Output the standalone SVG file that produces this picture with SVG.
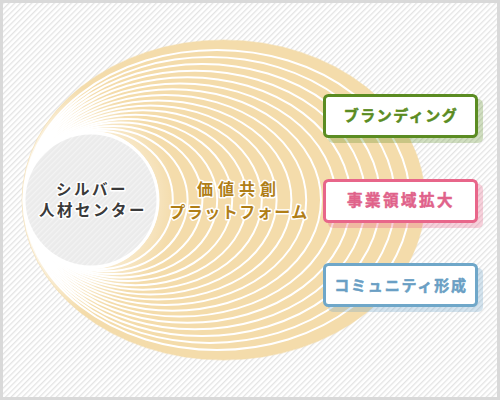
<svg xmlns="http://www.w3.org/2000/svg" width="500" height="400" viewBox="0 0 500 400">
<defs>
<pattern id="stripes" patternUnits="userSpaceOnUse" width="4" height="4" patternTransform="rotate(45)">
<rect width="4" height="4" fill="#ffffff"/>
<rect width="1.3" height="4" fill="#e4e4e4"/>
</pattern>
<pattern id="stripesGray" patternUnits="userSpaceOnUse" width="4" height="4" patternTransform="rotate(45)">
<rect width="4" height="4" fill="#ebebeb"/>
<rect width="1.3" height="4" fill="#f3f3f3"/>
</pattern>
<radialGradient id="fade" gradientUnits="userSpaceOnUse" cx="60" cy="200" r="115">
<stop offset="0.3" stop-color="#ffffff" stop-opacity="1"/>
<stop offset="1" stop-color="#ffffff" stop-opacity="0"/>
</radialGradient>
<clipPath id="bigClip"><ellipse cx="223.5" cy="200" rx="201.5" ry="160"/></clipPath>
<style>
.ring{fill:none;stroke:#ffffff;stroke-width:2}
.lbl{font-family:"Noto Sans CJK JP","Noto Sans",sans-serif;font-weight:700;text-anchor:middle;paint-order:stroke;stroke:#ffffff;stroke-linejoin:round}
.btxt{font-family:"Noto Sans CJK JP","Noto Sans",sans-serif;font-weight:700;text-anchor:middle;stroke-width:0.5;stroke-linejoin:round}
.box{fill:#ffffff;stroke-width:3}
</style>
</defs>
<rect x="0" y="0" width="500" height="400" fill="#d9d9d9"/>
<rect x="3" y="3" width="494" height="394" fill="url(#stripes)"/>
<g id="platform">
<g clip-path="url(#bigClip)">
<ellipse cx="223.5" cy="200" rx="201.5" ry="160" fill="#f4dcab"/>
<ellipse class="ring" cx="91" cy="200" rx="67" ry="68"/>
<ellipse class="ring" cx="98.4" cy="200" rx="74.4" ry="69.2"/>
<ellipse class="ring" cx="105.8" cy="200" rx="81.8" ry="71.3"/>
<ellipse class="ring" cx="113.2" cy="200" rx="89.2" ry="74.1"/>
<ellipse class="ring" cx="120.6" cy="200" rx="96.6" ry="77.4"/>
<ellipse class="ring" cx="128.1" cy="200" rx="104.1" ry="81.1"/>
<ellipse class="ring" cx="135.5" cy="200" rx="111.5" ry="85.2"/>
<ellipse class="ring" cx="142.9" cy="200" rx="118.9" ry="89.7"/>
<ellipse class="ring" cx="150.3" cy="200" rx="126.3" ry="94.5"/>
<ellipse class="ring" cx="157.7" cy="200" rx="133.7" ry="99.6"/>
<ellipse class="ring" cx="165.1" cy="200" rx="141.1" ry="105"/>
<ellipse class="ring" cx="172.5" cy="200" rx="148.5" ry="110.7"/>
<ellipse class="ring" cx="180" cy="200" rx="156" ry="116.6"/>
<ellipse class="ring" cx="187.4" cy="200" rx="163.4" ry="122.8"/>
<ellipse class="ring" cx="194.8" cy="200" rx="170.8" ry="129.3"/>
<ellipse class="ring" cx="202.2" cy="200" rx="178.2" ry="136"/>
<ellipse class="ring" cx="209.6" cy="200" rx="185.6" ry="142.9"/>
<ellipse class="ring" cx="217" cy="200" rx="193" ry="150"/>
<rect x="0" y="0" width="500" height="400" fill="url(#fade)"/>
</g>
<ellipse cx="223.5" cy="200" rx="201.5" ry="160" fill="none" stroke="#f4dcab" stroke-width="1" stroke-opacity="0.6"/>
<text class="lbl" x="239" y="195" font-size="16" letter-spacing="5" fill="#b07e17" stroke-width="3">価値共創</text>
<text class="lbl" x="239" y="218" font-size="16" letter-spacing="1.5" fill="#b07e17" stroke-width="3">プラットフォーム</text>
</g>
<g id="silver-center">
<circle cx="91" cy="200" r="68.5" fill="#ffffff"/>
<circle cx="91" cy="200" r="65.5" fill="url(#stripesGray)"/>
<text class="lbl" x="92" y="195" font-size="15.5" letter-spacing="2.5" fill="#3a3a3a" stroke-width="3">シルバー</text>
<text class="lbl" x="93" y="216" font-size="15.5" letter-spacing="2.5" fill="#3a3a3a" stroke-width="3">人材センター</text>
</g>
<g id="connectors"></g>
<g id="branding">
<rect x="328" y="99" width="155" height="44" rx="5" fill="#5b8c22" fill-opacity="0.28"/>
<rect class="box" x="324.5" y="95.5" width="152" height="41" rx="4" stroke="#5b8c22"/>
<text class="btxt" x="401" y="121" font-size="15" letter-spacing="1.5" fill="#5b8c22" stroke="#5b8c22">ブランディング</text>
</g>
<g id="business">
<rect x="328" y="184" width="155" height="44" rx="5" fill="#e8668a" fill-opacity="0.3"/>
<rect class="box" x="324.5" y="180.5" width="152" height="41" rx="4" stroke="#e8668a"/>
<text class="btxt" x="401" y="206" font-size="15.5" letter-spacing="2.5" fill="#e0628a" stroke="#e0628a">事業領域拡大</text>
</g>
<g id="community">
<rect x="328" y="268" width="155" height="44" rx="5" fill="#6fa7c9" fill-opacity="0.3"/>
<rect class="box" x="324.5" y="264.5" width="152" height="41" rx="4" stroke="#6fa7c9"/>
<text class="btxt" x="401" y="291" font-size="15" letter-spacing="1.8" fill="#6a9fc4" stroke="#6a9fc4">コミュニティ形成</text>
</g>
</svg>
